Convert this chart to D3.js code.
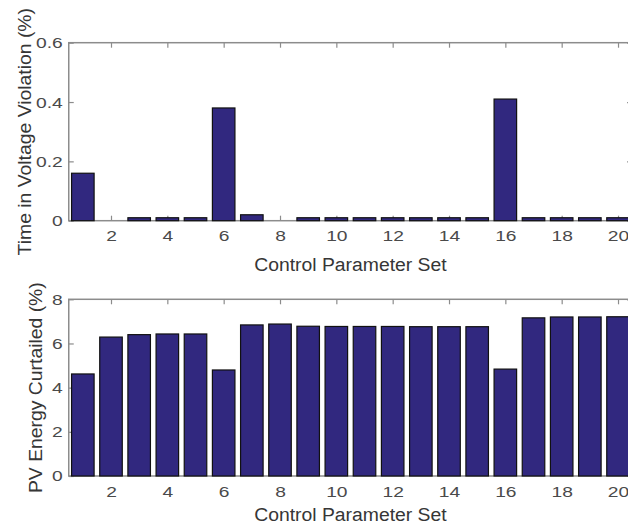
<!DOCTYPE html>
<html>
<head>
<meta charset="utf-8">
<script src="https://cdn.jsdelivr.net/npm/d3@7"></script>
<style>
  html, body { margin: 0; padding: 0; background: #fff; }
  svg { display: block; }
  text { font-family: "Liberation Sans", Arial, Helvetica, sans-serif; }
</style>
</head>
<body>
<svg id="chart" width="628" height="527"></svg>
<script>
// ---- data ----
const sets = d3.range(1, 21);
const violation = [0.16, 0, 0.01, 0.01, 0.01, 0.38, 0.02, 0, 0.01, 0.01,
                   0.01, 0.01, 0.01, 0.01, 0.01, 0.41, 0.01, 0.01, 0.01, 0.01];
const curtailed = [4.62, 6.29, 6.40, 6.43, 6.43, 4.80, 6.84, 6.88, 6.78, 6.77,
                   6.77, 6.77, 6.76, 6.76, 6.76, 4.84, 7.16, 7.20, 7.20, 7.21];
const xTicks = [2, 4, 6, 8, 10, 12, 14, 16, 18, 20];
const yTicksTop = [0, 0.2, 0.4, 0.6];
const yTicksBottom = [0, 2, 4, 6, 8];
const xLabel = "Control Parameter Set";
const yLabelTop = "Time in Voltage Violation (%)";
const yLabelBottom = "PV Energy Curtailed (%)";

// ---- styling ----
const barFill = "#31287f";
const axisColor = "#8c8c8c";
const tickTextColor = "#4a4a4a";
const labelColor = "#363636";
const tickFont = 15.5, tickStretch = 1.24;
const labelFont = 18, labelStretch = 1.075;

const svg = d3.select("#chart");
svg.append("rect").attr("width", 628).attr("height", 527).attr("fill", "#fff");

const left = 68.75, right = 632.1;
const x = d3.scaleLinear().domain([0.5, 20.5]).range([left, right]);
const barW = (x(1) - x(0)) * 0.8;

function stretch(sel, f) {
  sel.each(function () {
    const len = this.getComputedTextLength();
    d3.select(this).attr("textLength", len * f).attr("lengthAdjust", "spacingAndGlyphs");
  });
}

function panel(values, yDomain, yTicks, yTop, yBottom, fmt, yLabel, labelX, xLabelY) {
  const y = d3.scaleLinear().domain(yDomain).range([yBottom, yTop]);
  const g = svg.append("g");

  // box
  g.append("rect")
    .attr("x", left).attr("y", yTop)
    .attr("width", right - left).attr("height", yBottom - yTop)
    .attr("fill", "none").attr("stroke", axisColor).attr("stroke-width", 1.5);

  const styleAxis = (ag) => {
    ag.select(".domain").remove();
    ag.selectAll(".tick line").attr("stroke", axisColor).attr("stroke-width", 1.2);
  };

  // bottom axis
  const xb = g.append("g").attr("transform", `translate(0,${yBottom})`)
    .call(d3.axisBottom(x).tickValues(xTicks).tickSizeInner(-5).tickSizeOuter(0).tickPadding(9.5));
  styleAxis(xb);
  xb.selectAll(".tick text").attr("font-size", tickFont).attr("fill", tickTextColor)
    .attr("font-family", "Liberation Sans, Arial, sans-serif").call(stretch, tickStretch);

  // top axis (ticks only)
  const xt = g.append("g").attr("transform", `translate(0,${yTop})`)
    .call(d3.axisTop(x).tickValues(xTicks).tickSizeInner(-5).tickSizeOuter(0).tickFormat(""));
  styleAxis(xt);

  // left axis
  const yl = g.append("g").attr("transform", `translate(${left},0)`)
    .call(d3.axisLeft(y).tickValues(yTicks).tickSizeInner(-5).tickSizeOuter(0).tickPadding(6).tickFormat(fmt));
  styleAxis(yl);
  yl.selectAll(".tick text").attr("font-size", tickFont).attr("fill", tickTextColor)
    .attr("font-family", "Liberation Sans, Arial, sans-serif").call(stretch, tickStretch);

  // right axis (ticks only)
  const yr = g.append("g").attr("transform", `translate(${right},0)`)
    .call(d3.axisRight(y).tickValues(yTicks).tickSizeInner(-5).tickSizeOuter(0).tickFormat(""));
  styleAxis(yr);

  // bars
  g.append("g").selectAll("rect")
    .data(sets.map((s, i) => ({ s, v: values[i] })))
    .join("rect")
    .attr("x", d => x(d.s) - barW / 2)
    .attr("y", d => y(d.v))
    .attr("width", barW)
    .attr("height", d => y(0) - y(d.v))
    .attr("fill", barFill)
    .attr("stroke", d => d.v > 0 ? "#111" : "none")
    .attr("stroke-width", 1.2);

  // x label
  g.append("text")
    .attr("x", (left + right) / 2).attr("y", xLabelY)
    .attr("text-anchor", "middle")
    .attr("font-size", labelFont).attr("fill", labelColor)
    .text(xLabel).call(stretch, labelStretch);

  // y label
  g.append("text")
    .attr("transform", `translate(${labelX},${(yTop + yBottom) / 2}) rotate(-90)`)
    .attr("text-anchor", "middle")
    .attr("font-size", labelFont).attr("fill", labelColor)
    .text(yLabel).call(stretch, labelStretch);
}

panel(violation, [0, 0.6], yTicksTop, 42.7, 220.7, d3.format(".1~f"), yLabelTop, 31, 271);
panel(curtailed, [0, 8], yTicksBottom, 299.3, 476, d3.format("d"), yLabelBottom, 42, 521);
</script>
</body>
</html>
